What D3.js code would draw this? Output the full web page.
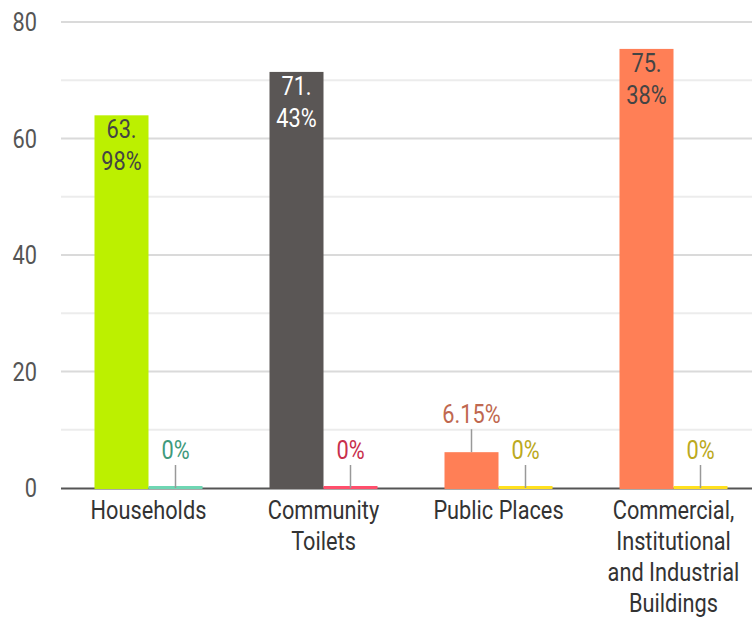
<!DOCTYPE html>
<html>
<head>
<meta charset="utf-8">
<script src="https://cdn.jsdelivr.net/npm/d3@7/dist/d3.min.js"></script>
<style>
  html, body { margin: 0; padding: 0; background: #fff; }
  svg { display: block; font-family: Roboto, "Noto Sans", sans-serif; }
</style>
</head>
<body>
<svg id="chart" width="752" height="621"></svg>
<script>
// Categories and their wrapped axis labels
const categories = ["Households", "Community Toilets", "Public Places", "Commercial, Institutional and Industrial Buildings"];
const categoryLines = [
  ["Households"],
  ["Community", "Toilets"],
  ["Public Places"],
  ["Commercial,", "Institutional", "and Industrial", "Buildings"]
];

// Two values per category (percent)
const primaryShare = [63.98, 71.43, 6.15, 75.38];
const secondaryShare = [0, 0, 0, 0];

// Per-point colours
const primaryColors = ["#bcf000", "#5a5655", "#ff7f56", "#ff7f56"];
const secondaryColors = ["#6fd6b3", "#ff4f6c", "#ffe01f", "#ffe01f"];
const primaryLabelColors = ["#444444", "#ffffff", "#c0684f", "#444444"];
const secondaryLabelColors = ["#3f9a7c", "#c8304c", "#bba920", "#bba920"];

const yTicks = [0, 20, 40, 60, 80];
const yMinor = [10, 30, 50, 70];

const svg = d3.select("#chart");
const W = 752, H = 621;
const plotLeft = 61, plotRight = 761;
const y0px = 488, yTopPx = 22;
const sx = 0.87; // narrow glyphs

const y = d3.scaleLinear().domain([0, 80]).range([y0px, yTopPx]);
const x = d3.scaleBand().domain(categories).range([plotLeft, plotRight])
  .paddingInner(67 / 175).paddingOuter(67 / 350);
const xs = d3.scaleBand().domain(["primary", "secondary"]).range([0, x.bandwidth()]);

function narrowText(g, tx, ty, str, color, anchor) {
  return g.append("text")
    .attr("transform", `translate(${tx},${ty}) scale(${sx},1)`)
    .attr("text-anchor", anchor || "middle")
    .attr("fill", color)
    .attr("font-size", 25)
    .text(str);
}

// Grid lines
const grid = svg.append("g");
grid.selectAll("line.minor").data(yMinor).join("line")
  .attr("x1", plotLeft).attr("x2", W)
  .attr("y1", d => y(d)).attr("y2", d => y(d))
  .attr("stroke", "#ececec").attr("stroke-width", 2);
grid.selectAll("line.major").data(yTicks.filter(d => d > 0)).join("line")
  .attr("x1", plotLeft).attr("x2", W)
  .attr("y1", d => y(d)).attr("y2", d => y(d))
  .attr("stroke", "#dadada").attr("stroke-width", 2);

// Y tick labels
const yLab = svg.append("g");
yTicks.forEach(t => narrowText(yLab, 37, y(t) + 9, String(t), "#555555", "end"));

// Baseline
svg.append("line")
  .attr("x1", plotLeft).attr("x2", W)
  .attr("y1", y0px + 0.5).attr("y2", y0px + 0.5)
  .attr("stroke", "#555555").attr("stroke-width", 2);

// Bars
const rows = [];
categories.forEach((c, i) => {
  rows.push({ cat: c, key: "primary", v: primaryShare[i], color: primaryColors[i], lc: primaryLabelColors[i] });
  rows.push({ cat: c, key: "secondary", v: secondaryShare[i], color: secondaryColors[i], lc: secondaryLabelColors[i] });
});

const bars = svg.append("g");
rows.forEach(d => {
  const bx = x(d.cat) + xs(d.key);
  const top = Math.min(y(d.v), y0px - 2);
  bars.append("rect")
    .attr("x", bx).attr("width", xs.bandwidth())
    .attr("y", top).attr("height", y0px + 1 - top)
    .attr("fill", d.color);
});

// Value labels
const labels = svg.append("g");
rows.forEach(d => {
  const cx = x(d.cat) + xs(d.key) + xs.bandwidth() / 2;
  const top = y(d.v);
  const txt = d.v === 0 ? "0%" : `${d.v}%`;
  if (d.v > 20) {
    const parts = String(d.v).split(".");
    narrowText(labels, cx, top + 23, parts[0] + ".", d.lc);
    narrowText(labels, cx, top + 55, parts[1] + "%", d.lc);
  } else {
    labels.append("line")
      .attr("x1", cx).attr("x2", cx)
      .attr("y1", top - 23).attr("y2", top)
      .attr("stroke", "#999999").attr("stroke-width", 1.5);
    narrowText(labels, cx, top - 29, txt, d.lc);
  }
});

// Category labels
const xLab = svg.append("g");
categories.forEach((c, i) => {
  const cx = x(c) + x.bandwidth() / 2;
  categoryLines[i].forEach((ln, k) => narrowText(xLab, cx, 519 + k * 31, ln, "#333333"));
});
</script>
</body>
</html>
